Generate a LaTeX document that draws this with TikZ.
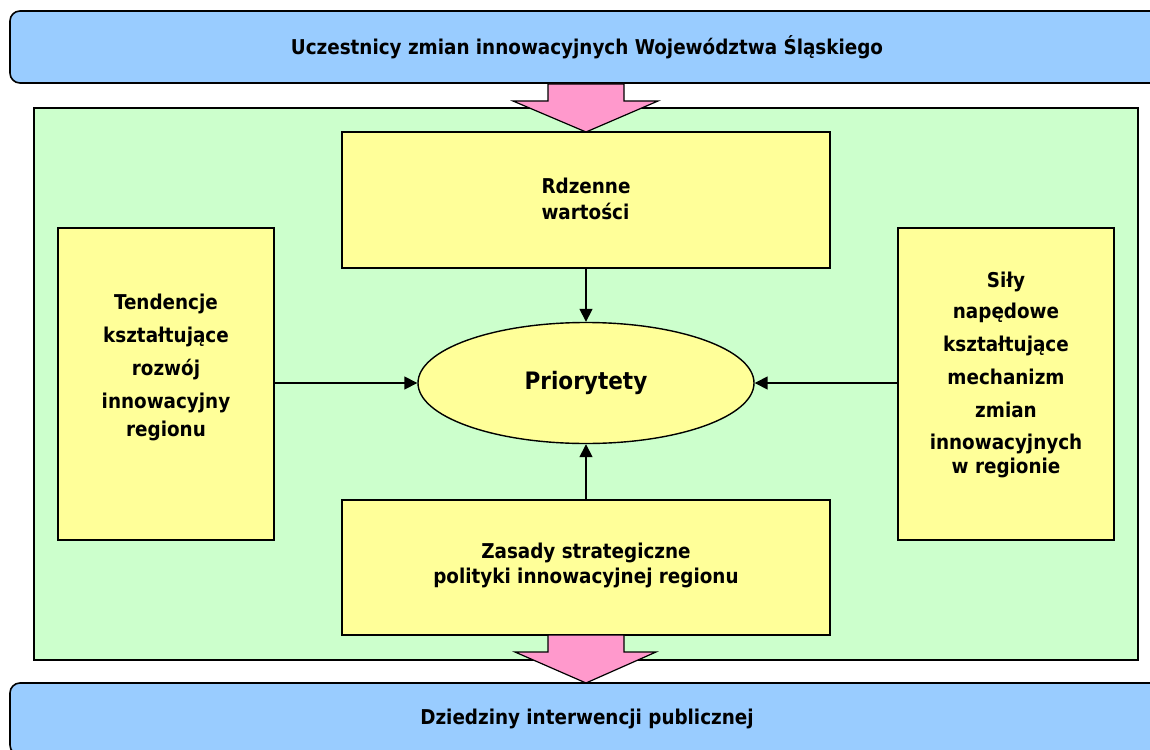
\documentclass[tikz,border=0pt]{standalone}
\usepackage{fontspec}
\setmainfont{DejaVu Sans Condensed}[BoldFont={DejaVu Sans Condensed Bold}]
\usetikzlibrary{arrows.meta,shapes.geometric}
\definecolor{bannerblue}{HTML}{99CCFF}
\definecolor{panelgreen}{HTML}{CCFFCC}
\definecolor{boxyellow}{HTML}{FFFF99}
\definecolor{arrowpink}{HTML}{FF99CC}
\tikzset{
  banner/.style={draw=black, line width=1.6pt, fill=bannerblue, rounded corners=10pt, inner sep=0pt},
  panel/.style={draw=black, line width=1.4pt, fill=panelgreen, inner sep=0pt},
  ybox/.style={draw=black, line width=1.4pt, fill=boxyellow, inner sep=0pt},
  txt/.style={font=\bfseries\fontsize{20.4}{33}\selectfont, align=center, inner sep=0pt},
  bigarrow/.style={draw=black, line width=1.2pt, fill=arrowpink, line join=miter},
  conn/.style={draw=black, line width=1.6pt, -{Triangle[length=13pt,width=13pt]}}
}
\begin{document}
\begin{tikzpicture}[x=1pt,y=-1pt]
\useasboundingbox (0,0) rectangle (1150,749);
\begin{scope}
\clip (0,0) rectangle (1150,749);
\node[banner, minimum width=1154pt, minimum height=72pt, txt] (top) at (587,47) {Uczestnicy zmian innowacyjnych Województwa Śląskiego};
\node[banner, minimum width=1154pt, minimum height=72pt, txt] (bottom) at (587,719) {Dziedziny interwencji publicznej};
\end{scope}
\node[panel, minimum width=1104pt, minimum height=552pt] (panel) at (586,384) {};
\node[ybox, minimum width=488pt, minimum height=136pt] (core) at (586,200) {};
\node[txt, align=left] (coretxt) at (586,199) {Rdzenne\\[-7pt]wartości};
\node[ybox, minimum width=216pt, minimum height=312pt] (left) at (166,384) {};
\node[txt] (lefttxt) at (166,367) {Tendencje\\kształtujące\\rozwój\\innowacyjny\\[-5pt]regionu};
\node[ybox, minimum width=216pt, minimum height=312pt] (right) at (1006,384) {};
\node[txt] (righttxt) at (1006,375) {Siły\\[-2pt]napędowe\\kształtujące\\mechanizm\\zmian\\[-1pt]innowacyjnych\\[-9pt]w regionie};
\node[ybox, minimum width=488pt, minimum height=135pt] (rules) at (586,567.5) {};
\node[txt] (rulestxt) at (586,565) {Zasady strategiczne\\[-8pt]polityki innowacyjnej regionu};
\node[ybox, ellipse, minimum width=336pt, minimum height=121pt, font=\bfseries\fontsize{24}{28}\selectfont] (prio) at (586,383) {Priorytety};
\draw[bigarrow] (548,84) -- (624,84) -- (624,101) -- (658,101) -- (586,132) -- (513,101) -- (548,101) -- cycle;
\draw[bigarrow] (548,635) -- (624,635) -- (624,652) -- (656,652) -- (586,683) -- (515,652) -- (548,652) -- cycle;
\draw[conn] (core.south) -- (prio.north);
\draw[conn] (rules.north) -- (prio.south);
\draw[conn] (left.east |- prio.west) -- (prio.west);
\draw[conn] (right.west |- prio.east) -- (prio.east);
\end{tikzpicture}
\end{document}
